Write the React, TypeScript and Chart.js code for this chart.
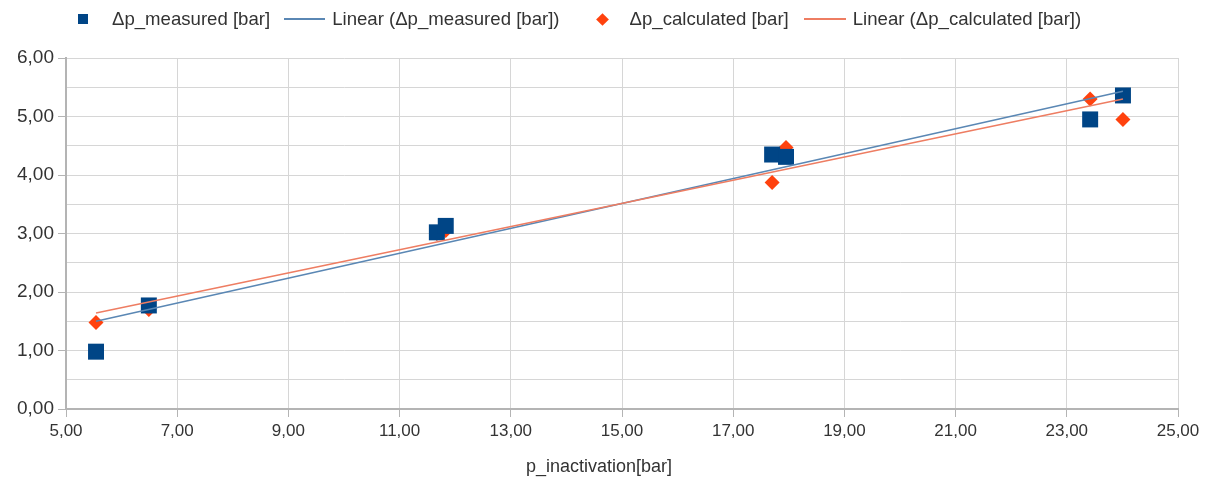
import React, { useEffect, useRef } from "react";
import { Chart, registerables } from "chart.js";

Chart.register(...registerables);

// ---- data ----
const pInactivation = [5.54, 6.49, 11.67, 11.83, 17.7, 17.95, 23.42, 24.01];
const dpMeasured = [0.98, 1.77, 3.02, 3.13, 4.35, 4.31, 4.95, 5.36];
const dpCalculated = [1.48, 1.7, 3.0, 3.05, 3.87, 4.47, 5.3, 4.95];
const trendX = [5.54, 24.01];
const measuredTrendY = [1.5, 5.43];
const calculatedTrendY = [1.64, 5.3];
const xTickValues = [5, 7, 9, 11, 13, 15, 17, 19, 21, 23, 25];

const seriesNames = [
  "Δp_measured [bar]",
  "Linear (Δp_measured [bar])",
  "Δp_calculated [bar]",
  "Linear (Δp_calculated [bar])",
];
const xTitle = "p_inactivation[bar]";

const BLUE = "#004586";
const ORANGE = "#ff420e";
const BLUE_LINE = "#5a87b4";
const ORANGE_LINE = "#ee7d62";
const GRID = "#d6d6d6";
const AXIS = "#b4b4b4";
const TEXT = "#333333";
const FONT = "'Liberation Sans', Arial, sans-serif";

const fmt = (v: number) => v.toFixed(2).replace(".", ",");

export default function App() {
  const ref = useRef<HTMLCanvasElement | null>(null);

  useEffect(() => {
    if (!ref.current) return;
    const toPts = (xs: number[], ys: number[]) => xs.map((x, i) => ({ x, y: ys[i] }));
    const chart = new Chart(ref.current, {
      type: "scatter",
      data: {
        datasets: [
          {
            label: seriesNames[0],
            data: toPts(pInactivation, dpMeasured),
            pointStyle: "rect",
            pointRadius: 11.3,
            pointHoverRadius: 11.3,
            backgroundColor: BLUE,
            borderColor: BLUE,
            borderWidth: 0,
            order: 2,
          },
          {
            label: seriesNames[1],
            type: "line",
            data: toPts(trendX, measuredTrendY),
            borderColor: BLUE_LINE,
            borderWidth: 1.5,
            pointRadius: 0,
            showLine: true,
            fill: false,
            order: 1,
          },
          {
            label: seriesNames[2],
            data: toPts(pInactivation, dpCalculated),
            pointStyle: "rectRot",
            pointRadius: 7.5,
            pointHoverRadius: 7.5,
            backgroundColor: ORANGE,
            borderColor: ORANGE,
            borderWidth: 0,
            order: 3,
          },
          {
            label: seriesNames[3],
            type: "line",
            data: toPts(trendX, calculatedTrendY),
            borderColor: ORANGE_LINE,
            borderWidth: 1.5,
            pointRadius: 0,
            showLine: true,
            fill: false,
            order: 0,
          },
        ],
      } as any,
      options: {
        responsive: false,
        animation: false,
        events: [],
        layout: { padding: { top: 58, left: 0, right: 32, bottom: 0 } },
        plugins: {
          legend: { display: false },
          tooltip: { enabled: false },
        },
        scales: {
          x: {
            type: "linear",
            min: 5,
            max: 25,
            afterBuildTicks: (scale: any) => {
              scale.ticks = xTickValues.map((v) => ({ value: v }));
            },
            afterFit: (scale: any) => {
              scale.height = 73;
            },
            grid: { color: GRID, lineWidth: 1, tickLength: 8, tickColor: AXIS },
            border: { color: AXIS, width: 2 },
            ticks: {
              autoSkip: false,
              maxRotation: 0,
              padding: 4,
              color: TEXT,
              font: { family: FONT, size: 17 },
              callback: (v: any) => fmt(Number(v)),
            },
            title: { display: false },
          },
          y: {
            type: "linear",
            min: 0,
            max: 6,
            afterFit: (scale: any) => {
              scale.width = 66;
            },
            grid: {
              color: GRID,
              lineWidth: 1,
              tickLength: 8,
              tickColor: (ctx: any) =>
                ctx.tick && Math.abs(ctx.tick.value % 1) < 1e-6 ? AXIS : "rgba(0,0,0,0)",
            },
            border: { color: AXIS, width: 2 },
            ticks: {
              stepSize: 0.5,
              autoSkip: false,
              padding: 4,
              color: TEXT,
              font: { family: FONT, size: 19 },
              callback: (v: any) => (Math.abs(Number(v) % 1) < 1e-6 ? fmt(Number(v)) : ""),
            },
          },
        },
      } as any,
    });
    return () => chart.destroy();
  }, []);

  const textStyle: React.CSSProperties = {
    fontFamily: FONT,
    fontSize: 18.6,
    color: TEXT,
    whiteSpace: "nowrap",
  };

  return (
    <div
      style={{
        position: "fixed",
        left: 0,
        top: 0,
        width: 1210,
        height: 482,
        background: "#ffffff",
      }}
    >
      <canvas ref={ref} width={1210} height={482} style={{ display: "block" }} />
      <div
        style={{
          position: "absolute",
          left: 78,
          top: 8,
          height: 22,
          display: "flex",
          alignItems: "center",
        }}
      >
        <span style={{ width: 10, height: 10, background: BLUE, display: "inline-block" }} />
        <span style={{ ...textStyle, marginLeft: 24 }}>{seriesNames[0]}</span>
        <span
          style={{ width: 41, height: 1.5, background: BLUE_LINE, display: "inline-block", marginLeft: 14 }}
        />
        <span style={{ ...textStyle, marginLeft: 7 }}>{seriesNames[1]}</span>
        <span
          style={{
            width: 9,
            height: 9,
            background: ORANGE,
            display: "inline-block",
            transform: "rotate(45deg)",
            marginLeft: 38,
          }}
        />
        <span style={{ ...textStyle, marginLeft: 23 }}>{seriesNames[2]}</span>
        <span
          style={{ width: 42, height: 1.5, background: ORANGE_LINE, display: "inline-block", marginLeft: 15 }}
        />
        <span style={{ ...textStyle, marginLeft: 7 }}>{seriesNames[3]}</span>
      </div>
      <div
        style={{
          position: "absolute",
          left: 599,
          top: 455,
          transform: "translateX(-50%)",
          fontFamily: FONT,
          fontSize: 18,
          color: TEXT,
          whiteSpace: "nowrap",
          lineHeight: "22px",
        }}
      >
        {xTitle}
      </div>
    </div>
  );
}
